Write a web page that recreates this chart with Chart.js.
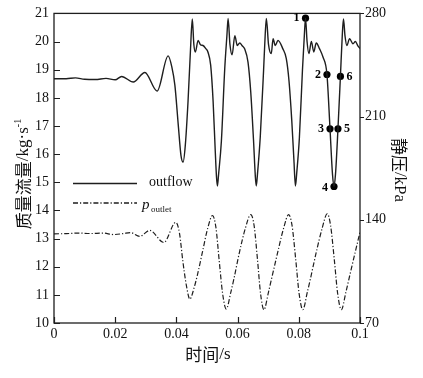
<!DOCTYPE html>
<html>
<head>
<meta charset="utf-8">
<script src="https://cdn.jsdelivr.net/npm/chart.js@4.4.1/dist/chart.umd.min.js"></script>
<style>
html,body{margin:0;padding:0;background:#fff;}
#wrap{width:423px;height:378px;}
</style>
</head>
<body>
<div id="wrap"><canvas id="c" width="423" height="378"></canvas></div>
<script>
// ---- data ----
const xTicks = [0, 0.02, 0.04, 0.06, 0.08, 0.1];
const xTickLabels = ['0', '0.02', '0.04', '0.06', '0.08', '0.1'];
const yLeftTicks = [10, 11, 12, 13, 14, 15, 16, 17, 18, 19, 20, 21];
const yRightTicks = [70, 140, 210, 280];

// outflow mass flow rate (kg/s), left axis
const outflowTime = [0, 0.004, 0.007, 0.010, 0.0135, 0.017, 0.020, 0.0221, 0.0259, 0.0297, 0.0337, 0.0373,
  0.0385, 0.0395, 0.0406, 0.0415, 0.0422, 0.0429, 0.0438, 0.0446, 0.0452, 0.0457, 0.0462, 0.0471, 0.0479, 0.0487, 0.0496, 0.0503, 0.0512, 0.052, 0.0527, 0.0531, 0.0534,
  0.0538, 0.0547, 0.0558, 0.0565, 0.0569, 0.0575, 0.0582, 0.0591, 0.0599, 0.0607, 0.0615, 0.0623, 0.0634, 0.0643, 0.0652, 0.0658, 0.0661,
  0.0665, 0.0674, 0.0685, 0.069, 0.0694, 0.0701, 0.071, 0.0716, 0.0723, 0.0732, 0.0748, 0.0759, 0.0768, 0.0777, 0.0784, 0.0789,
  0.0793, 0.0802, 0.0812, 0.0818, 0.0822, 0.0827, 0.0833, 0.0841, 0.0849, 0.0857, 0.0868, 0.0879, 0.0892, 0.0902, 0.091, 0.0915,
  0.092, 0.0928, 0.0936, 0.0942, 0.0946, 0.0951, 0.0957, 0.0966, 0.0977, 0.0985, 0.0993, 0.1];
const outflowValue = [18.68, 18.68, 18.71, 18.66, 18.65, 18.69, 18.64, 18.76, 18.56, 18.9, 18.24, 19.49,
  19.1, 18.45, 17.05, 15.95, 15.72, 16.3, 17.87, 19.7, 20.8, 19.9, 19.63, 20.04, 19.88, 19.86, 19.75, 19.63, 19.16, 17.87, 16.1, 15.2, 14.87,
  15.3, 16.46, 19.04, 20.2, 20.82, 19.9, 19.53, 20.21, 19.86, 19.95, 19.85, 19.74, 19.27, 18.2, 16.5, 15.2, 14.87,
  15.3, 16.6, 19.0, 20.2, 20.82, 19.9, 19.57, 20.1, 19.86, 20.04, 19.74, 19.4, 18.6, 17.2, 15.8, 14.87,
  15.3, 16.6, 19.0, 20.2, 20.83, 20.0, 19.57, 20.0, 19.63, 19.95, 19.74, 19.45, 18.83, 16.9, 15.3, 14.85,
  15.3, 16.9, 18.76, 20.2, 20.8, 20.2, 19.86, 20.1, 19.92, 20.0, 19.85, 19.75];

// outlet static pressure (kPa), right axis
const pTime = [0, 0.004, 0.008, 0.012, 0.016, 0.0195, 0.0225, 0.025, 0.028, 0.0313, 0.0359, 0.0398,
  0.0410, 0.0421, 0.0433, 0.0444, 0.0458, 0.0468, 0.0485, 0.0502, 0.0518,
  0.0529, 0.0540, 0.0551, 0.0563, 0.0578, 0.0588, 0.0605, 0.0625, 0.0643,
  0.0654, 0.0665, 0.0675, 0.0686, 0.0701, 0.0711, 0.0730, 0.0750, 0.0767,
  0.0778, 0.0790, 0.0801, 0.0813, 0.0828, 0.0838, 0.0856, 0.0876, 0.0893,
  0.0904, 0.0916, 0.0927, 0.0939, 0.0954, 0.0964, 0.0982, 0.1];
const pValue = [130.5, 130.6, 131.0, 130.7, 131.0, 130.0, 130.6, 131.3, 128.8, 132.8, 124.6, 138.3,
  131, 112, 95, 86.2, 94, 102, 118, 134, 142.9,
  135, 112, 90, 79.5, 91, 100, 117, 134, 143.5,
  136, 113, 90, 79.0, 91, 100, 117, 134, 143.5,
  136, 113, 90, 79.0, 91, 100, 117, 134, 144.1,
  136, 113, 90, 79.0, 91, 100, 116, 131.7];

// labelled state points 1-6 on the outflow curve
const markerLabels = ['1', '2', '3', '4', '5', '6'];
const markerTime = [0.0822, 0.0892, 0.0902, 0.0915, 0.0928, 0.0936];
const markerValue = [20.83, 18.83, 16.9, 14.85, 16.9, 18.76];

const toPts = (xs, ys) => xs.map((x, i) => ({x: x, y: ys[i]}));

const INK = '#1e1e1e';
const SERIF = "'Liberation Serif', 'DejaVu Serif', serif";
const CJK = "'Noto Sans CJK SC', sans-serif";

const markerSide = ['left', 'left', 'left', 'left', 'right', 'right'];

const decorPlugin = {
  id: 'decor',
  afterDatasetsDraw(chart) {
    const ctx = chart.ctx;
    const a = chart.chartArea;
    const xs = chart.scales.x, yl = chart.scales.y, yr = chart.scales.y1;
    ctx.save();
    ctx.strokeStyle = INK;
    ctx.lineWidth = 1.3;
    // frame
    ctx.strokeRect(a.left, a.top, a.right - a.left, a.bottom - a.top);
    // inward ticks bottom / left, outward right
    ctx.lineWidth = 1.2;
    ctx.beginPath();
    xTicks.forEach(v => {
      const px = Math.round(xs.getPixelForValue(v)) + 0.5;
      ctx.moveTo(px, a.bottom); ctx.lineTo(px, a.bottom - 6);
    });
    yLeftTicks.forEach(v => {
      const py = Math.round(yl.getPixelForValue(v)) + 0.5;
      ctx.moveTo(a.left, py); ctx.lineTo(a.left + 6, py);
    });
    yRightTicks.forEach(v => {
      const py = Math.round(yr.getPixelForValue(v)) + 0.5;
      ctx.moveTo(a.right, py); ctx.lineTo(a.right + 4, py);
    });
    ctx.stroke();

    // marker labels
    const meta = chart.getDatasetMeta(2);
    ctx.fillStyle = '#000';
    ctx.font = "bold 12px " + SERIF;
    ctx.textBaseline = 'middle';
    meta.data.forEach((pt, i) => {
      if (markerSide[i] === 'left') {
        ctx.textAlign = 'right';
        ctx.fillText(markerLabels[i], pt.x - 6, pt.y + (i === 3 ? 1 : 0));
      } else {
        ctx.textAlign = 'left';
        ctx.fillText(markerLabels[i], pt.x + 6, pt.y);
      }
    });

    // legend
    const lx0 = a.left + 19, lx1 = a.left + 83;
    const ly1 = 183.5, ly2 = 203;
    ctx.strokeStyle = INK;
    ctx.lineWidth = 1.3;
    ctx.beginPath(); ctx.moveTo(lx0, ly1); ctx.lineTo(lx1, ly1); ctx.stroke();
    ctx.setLineDash([5, 2, 1.2, 2]);
    ctx.beginPath(); ctx.moveTo(lx0, ly2); ctx.lineTo(lx1, ly2); ctx.stroke();
    ctx.setLineDash([]);
    ctx.fillStyle = '#111';
    ctx.textAlign = 'left';
    ctx.textBaseline = 'middle';
    ctx.font = "14px " + SERIF;
    ctx.fillText('outflow', a.left + 95, ly1 - 1);
    ctx.font = "italic 15px " + SERIF;
    ctx.fillText('p', a.left + 88, ly2 + 2);
    ctx.font = "9px " + SERIF;
    ctx.fillText('outlet', a.left + 97, ly2 + 7);

    // axis titles
    const drawSegs = (segs, cx, cy, rot) => {
      ctx.save();
      ctx.translate(cx, cy);
      ctx.rotate(rot);
      let total = 0;
      segs.forEach(s => { ctx.font = s.font; total += ctx.measureText(s.text).width; });
      let x = -total / 2;
      ctx.textAlign = 'left';
      ctx.textBaseline = 'middle';
      segs.forEach(s => {
        ctx.font = s.font;
        ctx.fillText(s.text, x, s.dy || 0);
        x += ctx.measureText(s.text).width;
      });
      ctx.restore();
    };
    ctx.fillStyle = '#111';
    drawSegs([
      {text: '质量流量', font: "17px " + CJK},
      {text: '/kg·s', font: "17px " + SERIF},
      {text: '-1', font: "10px " + SERIF, dy: -6}
    ], 24, 174, -Math.PI / 2);
    drawSegs([
      {text: '静压', font: "17px " + CJK},
      {text: '/kPa', font: "17px " + SERIF}
    ], 399, 170, Math.PI / 2);
    drawSegs([
      {text: '时间', font: "17px " + CJK},
      {text: '/s', font: "17px " + SERIF}
    ], 208, 355, 0);
    ctx.restore();
  }
};

const tickFont = {family: SERIF, size: 14};

new Chart(document.getElementById('c'), {
  type: 'line',
  data: {
    datasets: [
      {
        label: 'outflow',
        data: toPts(outflowTime, outflowValue),
        yAxisID: 'y',
        borderColor: INK,
        borderWidth: 1.4,
        pointRadius: 0,
        cubicInterpolationMode: 'monotone',
        fill: false
      },
      {
        label: 'p_outlet',
        data: toPts(pTime, pValue),
        yAxisID: 'y1',
        borderColor: INK,
        borderWidth: 1.2,
        borderDash: [5, 2, 1.2, 2],
        pointRadius: 0,
        cubicInterpolationMode: 'monotone',
        fill: false
      },
      {
        label: 'states',
        data: toPts(markerTime, markerValue),
        yAxisID: 'y',
        showLine: false,
        pointRadius: 3.6,
        pointBackgroundColor: '#000',
        pointBorderColor: '#000',
        pointBorderWidth: 0
      }
    ]
  },
  options: {
    responsive: false,
    animation: false,
    devicePixelRatio: 1,
    layout: {padding: {top: 11, left: 0, right: 0, bottom: 0}},
    plugins: {legend: {display: false}, tooltip: {enabled: false}},
    scales: {
      x: {
        type: 'linear', min: 0, max: 0.1,
        grid: {display: false, drawTicks: false},
        border: {display: false},
        afterBuildTicks: s => { s.ticks = xTicks.map(v => ({value: v})); },
        afterFit: s => { s.height = 55; },
        ticks: {
          autoSkip: false, maxRotation: 0, padding: 3,
          color: '#111', font: tickFont,
          callback: (v, i) => xTickLabels[i]
        }
      },
      y: {
        type: 'linear', position: 'left', min: 10, max: 21,
        grid: {display: false, drawTicks: false},
        border: {display: false},
        afterBuildTicks: s => { s.ticks = yLeftTicks.map(v => ({value: v})); },
        afterFit: s => { s.width = 54; },
        ticks: {autoSkip: false, padding: 5, color: '#111', font: tickFont,
          callback: (v, i) => String(yLeftTicks[i])}
      },
      y1: {
        type: 'linear', position: 'right', min: 70, max: 280,
        grid: {display: false, drawTicks: false},
        border: {display: false},
        afterBuildTicks: s => { s.ticks = yRightTicks.map(v => ({value: v})); },
        afterFit: s => { s.width = 63; },
        ticks: {autoSkip: false, padding: 5, color: '#111', font: tickFont,
          callback: (v, i) => String(yRightTicks[i])}
      }
    }
  },
  plugins: [decorPlugin]
});
</script>
</body>
</html>
